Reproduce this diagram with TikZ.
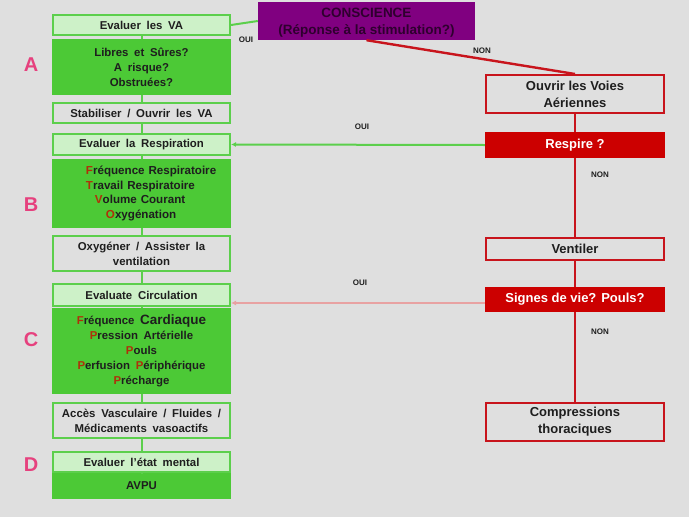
\documentclass[tikz,border=0pt]{standalone}
\usepackage{fontspec}
\setmainfont{Liberation Sans}
\usetikzlibrary{arrows.meta}
\definecolor{bgcol}{HTML}{DFDFDF}
\definecolor{grnline}{HTML}{5CCF4C}
\definecolor{grnlight}{HTML}{CDF1C8}
\definecolor{grndark}{HTML}{4CC936}
\definecolor{redline}{HTML}{C8141C}
\definecolor{redfill}{HTML}{CC0000}
\definecolor{purp}{HTML}{800080}
\definecolor{purptxt}{HTML}{2E002E}
\definecolor{pinkline}{HTML}{E8A2A2}
\definecolor{abccol}{HTML}{E6417E}
\definecolor{inicol}{HTML}{B0300A}
\definecolor{txtcol}{HTML}{1E1E1E}
\newcommand{\ini}[1]{\textcolor{inicol}{#1}}
\newcommand{\lefttxt}{\fontsize{11.4}{15}\selectfont\bfseries\spaceskip=0.5em\relax}
\newcommand{\ftvotxt}{\fontsize{11.6}{14.7}\selectfont\bfseries\spaceskip=0.5em\relax}
\newcommand{\righttxt}{\fontsize{13}{17}\selectfont\bfseries}
\begin{document}
\begin{tikzpicture}[x=1pt,y=-1pt,
    lbox/.style={draw=grnline,line width=2.4pt,fill=grnlight,minimum width=176.6pt,text=txtcol,font=\lefttxt,align=center,inner sep=0pt},
    gbox/.style={lbox,fill=bgcol},
    dbox/.style={fill=grndark,minimum width=179pt,text=txtcol,font=\lefttxt,align=center,inner sep=0pt},
    rbox/.style={draw=redline,line width=2.4pt,fill=bgcol,minimum width=177.6pt,text=txtcol,font=\righttxt,align=center,inner sep=0pt},
    qbox/.style={fill=redfill,minimum width=180pt,text=white,font=\righttxt,inner sep=0pt},
    lab/.style={font=\fontsize{8}{9}\selectfont\bfseries,text=txtcol,inner sep=0pt},
    abc/.style={font=\fontsize{20}{24}\selectfont\bfseries,text=abccol,inner sep=0pt},
    gline/.style={draw=grnline,line width=2pt},
    rline/.style={draw=redline,line width=2.4pt},
    pline/.style={draw=pinkline,line width=2pt}]
    \useasboundingbox[fill=bgcol] (0,0) rectangle (689,517);
    % left column
    \node[lbox,minimum height=19.6pt] (evalva) at (141.5,25) {Evaluer les VA};
    \node[dbox,minimum height=56pt] (libres) at (141.5,67) {Libres et Sûres?\\A risque?\\Obstruées?};
    \node[gbox,minimum height=19.6pt] (stab) at (141.5,113) {Stabiliser / Ouvrir les VA};
    \node[lbox,minimum height=20.6pt] (evalresp) at (141.5,144.5) {Evaluer la Respiration};
    \node[dbox,minimum height=69pt,text width=179pt,align=left,font=\ftvotxt] (ftvo) at (141.5,193.5)
        {\hspace*{34pt}\ini{F}réquence Respiratoire\\\hspace*{34pt}\ini{T}ravail Respiratoire\\
         \hspace*{43pt}\ini{V}olume Courant\\\hspace*{54pt}\ini{O}xygénation};
    \node[gbox,minimum height=34.6pt] (oxy) at (141.5,253.5) {Oxygéner / Assister la\\ventilation};
    \node[lbox,minimum height=21.6pt] (evalcirc) at (141.5,295) {Evaluate Circulation};
    \node[dbox,minimum height=86pt] (fppp) at (141.5,351)
        {\ini{F}réquence {\fontsize{13.5}{15}\selectfont Cardiaque}\\\ini{P}ression Artérielle\\\ini{P}ouls\\
         \ini{P}erfusion \ini{P}ériphérique\\\ini{P}récharge};
    \node[gbox,minimum height=34.6pt] (acces) at (141.5,420.5) {Accès Vasculaire / Fluides /\\Médicaments vasoactifs};
    \node[lbox,minimum height=19.6pt] (evalment) at (141.5,462) {Evaluer l'état mental};
    \node[dbox,minimum height=26pt] (avpu) at (141.5,486) {AVPU};
    \foreach \a/\b in {evalva/libres,libres/stab,stab/evalresp,evalresp/ftvo,ftvo/oxy,
                       oxy/evalcirc,evalcirc/fppp,fppp/acces,acces/evalment,evalment/avpu}
        {\draw[gline] (\a) -- (\b);
        }
    % letters
    \node[abc] (la) at (31,65) {A};
    \node[abc] (lb) at (31,205) {B};
    \node[abc] (lc) at (31,340) {C};
    \node[abc] (ld) at (31,465) {D};
    % right column
    \node[fill=purp,minimum width=217pt,minimum height=38pt,text=purptxt,align=center,inner sep=0pt,
          font=\fontsize{13.5}{17}\selectfont\bfseries] (consc) at (366.5,21)
        {\rule{0pt}{13pt}CONSCIENCE\\(Réponse à la stimulation?)};
    \node[rbox,minimum height=37.6pt] (ouvrir) at (575,94) {Ouvrir les Voies\\Aériennes};
    \node[qbox,minimum height=26pt] (respire) at (575,145) {Respire ?};
    \node[rbox,minimum height=21.6pt] (ventil) at (575,249) {Ventiler};
    \node[qbox,minimum height=25pt] (signes) at (575,299.5) {Signes de vie? Pouls?};
    \node[rbox,minimum height=37.6pt] (compr) at (575,422) {Compressions\\thoraciques};
    % connectors
    \draw[gline] (evalva.east) -- (consc.west);
    \draw[rline] (consc.south) -- (ouvrir.north);
    \draw[rline] (ouvrir) -- (respire);
    \draw[rline] (respire) -- (ventil);
    \draw[rline] (ventil) -- (signes);
    \draw[rline] (signes) -- (compr);
    \draw[gline,-{Latex[length=5pt,width=5pt]}] (respire.west) -- (evalresp.east);
    \draw[pline,-{Latex[length=5pt,width=5pt]}] (signes.west |- 0,303) -- (evalcirc.east |- 0,303);
    % labels
    \node[lab] (oui1) at (246,40) {OUI};
    \node[lab] (non1) at (482,51) {NON};
    \node[lab] (oui2) at (362,127) {OUI};
    \node[lab] (non2) at (600,175) {NON};
    \node[lab] (oui3) at (360,283) {OUI};
    \node[lab] (non3) at (600,332) {NON};
\end{tikzpicture}
\end{document}
